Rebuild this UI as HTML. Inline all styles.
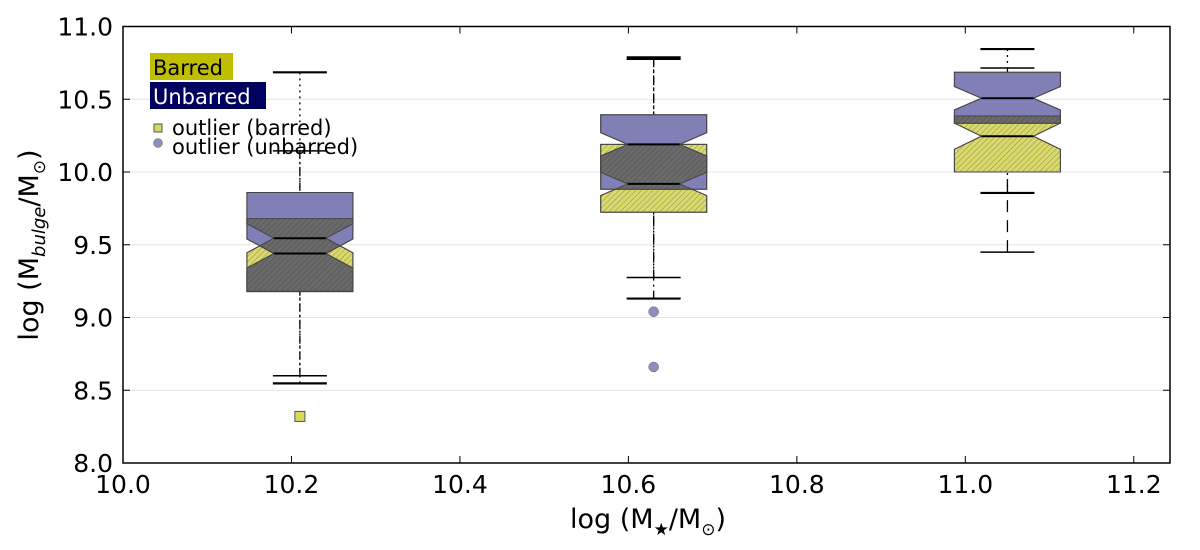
<!DOCTYPE html>
<html><head><meta charset="utf-8"><style>
html,body{margin:0;padding:0;background:#fff}
svg{display:block;font-family:"DejaVu Sans","Liberation Sans",sans-serif}
</style></head><body>
<svg id="chart" width="1200" height="550" viewBox="0 0 1200 550" xmlns="http://www.w3.org/2000/svg">
<defs>
<pattern id="hatch" width="4" height="4" patternUnits="userSpaceOnUse" patternTransform="rotate(45)">
<line x1="0" y1="0" x2="0" y2="4" stroke="#333" stroke-width="0.8" opacity="0.6"/>
</pattern>
</defs>
<g id="grid"></g>
<g id="marks"></g>
<rect x="123" y="26.5" width="1047" height="436.5" fill="none" stroke="#000" stroke-width="1.5"/>
<g id="axes"></g>
<text x="648" y="528" font-size="27" text-anchor="middle">log (M<tspan font-size="17" dy="7">★</tspan><tspan dy="-7">/M</tspan><tspan font-size="17" dy="7">⊙</tspan><tspan dy="-7">)</tspan></text>
<text transform="translate(38,245) rotate(-90)" font-size="27" text-anchor="middle">log (M<tspan font-size="18" dy="7" font-style="italic">bulge</tspan><tspan dy="-7">/M</tspan><tspan font-size="17" dy="7">⊙</tspan><tspan dy="-7">)</tspan></text>
<g>
<rect x="150" y="53" width="83" height="27" fill="#bfbf00"/>
<text x="153" y="75" font-size="21" fill="#000">Barred</text>
<rect x="150" y="82" width="116" height="27" fill="#00005e"/>
<text x="153" y="104" font-size="21" fill="#fff">Unbarred</text>
<rect x="154" y="124" width="8" height="8" fill="#d8d860" stroke="#555"/>
<text x="172" y="135" font-size="21">outlier (barred)</text>
<circle cx="158" cy="143" r="4.5" fill="#8e8eba" stroke="#666" stroke-width="0.5"/>
<text x="172" y="154" font-size="21">outlier (unbarred)</text>
</g>
</svg>
<script>
const positions = [10.21, 10.63, 11.05];
const barredQ1 = [9.18, 9.724, 10.0];
const barredMed = [9.545, 9.918, 10.246];
const barredQ3 = [9.68, 10.19, 10.385];
const barredNotch = [0.10, 0.08, 0.09];
const barredWLo = [8.547, 9.13, 9.856];
const barredWHi = [10.685, 10.788, 10.845];
const unbarredQ1 = [9.178, 9.882, 10.335];
const unbarredMed = [9.44, 10.19, 10.507];
const unbarredQ3 = [9.859, 10.394, 10.685];
const unbarredNotch = [0.10, 0.08, 0.08];
const unbarredWLo = [8.60, 9.275, 9.449];
const unbarredWHi = [10.145, 10.775, 10.715];
const barredOutX = [10.21];
const barredOutY = [8.32];
const unbarredOutX = [10.63, 10.63];
const unbarredOutY = [9.04, 8.66];
const xTicks = [10.0, 10.2, 10.4, 10.6, 10.8, 11.0, 11.2];
const yTicks = [8.0, 8.5, 9.0, 9.5, 10.0, 10.5, 11.0];

const NS = "http://www.w3.org/2000/svg";
const X0 = 123, X1 = 1170, Y0 = 463, Y1 = 26.5;
const xMin = 10.0, xMax = 11.243, yMin = 8.0, yMax = 11.0;
function sx(v){ return X0 + (v - xMin) / (xMax - xMin) * (X1 - X0); }
function sy(v){ return Y0 - (v - yMin) / (yMax - yMin) * (Y0 - Y1); }
function mk(tag, attrs, parent){
  const e = document.createElementNS(NS, tag);
  for (const k in attrs) e.setAttribute(k, attrs[k]);
  parent.appendChild(e); return e;
}
const grid = document.getElementById('grid');
const axes = document.getElementById('axes');
const marks = document.getElementById('marks');
const defs = document.querySelector('defs');

yTicks.forEach(t => {
  if (t > yMin && t < yMax) {
    const g = mk('line', {x1:X0, x2:X1, y1:sy(t), y2:sy(t), stroke:'#e4e4e4', 'stroke-width':1}, grid);
    
    
  }
  const tk = mk('line', {x1:X0, x2:X0+7, y1:sy(t), y2:sy(t), stroke:'#000'}, axes);
  
  
  const tk2 = mk('line', {x1:X1, x2:X1-7, y1:sy(t), y2:sy(t), stroke:'#000'}, axes);
  
  
  const lb = mk('text', {x:X0-10, y:sy(t)+9, 'font-size':25, 'text-anchor':'end'}, axes);
  lb.textContent = t.toFixed(1);
  
  
});
xTicks.forEach(t => {
  const x = sx(t);
  const tk = mk('line', {x1:x, x2:x, y1:Y0, y2:Y0-7, stroke:'#000'}, axes);
  
  
  const tk2 = mk('line', {x1:x, x2:x, y1:Y1, y2:Y1+7, stroke:'#000'}, axes);
  
  
  const lb = mk('text', {x:x, y:Y0+30, 'font-size':25, 'text-anchor':'middle'}, axes);
  lb.textContent = t.toFixed(1);
  
  
});

const HW = 53, NW = 26, CAP = 27;
function notchPts(p, q1, med, q3, n){
  const cx = sx(p);
  const lo = Math.max(q1, med - n), hi = Math.min(q3, med + n);
  const pts = [[cx-HW,sy(q1)],[cx-HW,sy(lo)],[cx-NW,sy(med)],[cx-HW,sy(hi)],[cx-HW,sy(q3)],
               [cx+HW,sy(q3)],[cx+HW,sy(hi)],[cx+NW,sy(med)],[cx+HW,sy(lo)],[cx+HW,sy(q1)]];
  return pts.map(a => a[0].toFixed(1)+','+a[1].toFixed(1)).join(' ');
}
const styles = [['2,4','8,3,2,3'],['8,4,2,4','8,4,2,4'],['2,4','12,8']];
positions.forEach((p, i) => {
  const cx = sx(p);
  const wb = mk('line', {x1:cx, x2:cx, y1:sy(barredWHi[i]), y2:sy(barredQ3[i]), stroke:'#000', 'stroke-width':1.3, 'stroke-dasharray':styles[i][0]}, marks);
  
  
  const wu = mk('line', {x1:cx, x2:cx, y1:sy(unbarredWHi[i]), y2:sy(unbarredQ3[i]), stroke:'#000', 'stroke-width':1.3, 'stroke-dasharray':styles[i][1]}, marks);
  
  
  const wbl = mk('line', {x1:cx, x2:cx, y1:sy(barredWLo[i]), y2:sy(barredQ1[i]), stroke:'#000', 'stroke-width':1.3, 'stroke-dasharray':styles[i][0]}, marks);
  
  
  const wul = mk('line', {x1:cx, x2:cx, y1:sy(unbarredWLo[i]), y2:sy(unbarredQ1[i]), stroke:'#000', 'stroke-width':1.3, 'stroke-dasharray':styles[i][1]}, marks);
  
  
  [barredWHi[i], barredWLo[i]].forEach(v => {
    const c = mk('line', {x1:cx-CAP, x2:cx+CAP, y1:sy(v), y2:sy(v), stroke:'#000', 'stroke-width':2.2}, marks);
    
    
  });
  [unbarredWHi[i], unbarredWLo[i]].forEach(v => {
    const c = mk('line', {x1:cx-CAP, x2:cx+CAP, y1:sy(v), y2:sy(v), stroke:'#000', 'stroke-width':1.5}, marks);
    
    
  });
  const pb = notchPts(p, barredQ1[i], barredMed[i], barredQ3[i], barredNotch[i]);
  const pu = notchPts(p, unbarredQ1[i], unbarredMed[i], unbarredQ3[i], unbarredNotch[i]);
  const b = mk('polygon', {points:pb, fill:'#dada6c', stroke:'#555', 'stroke-width':1}, marks);
  
  
  const bh = mk('polygon', {points:pb, fill:'url(#hatch)'}, marks);
  
  
  const u = mk('polygon', {points:pu, fill:'#8080b6', stroke:'#555', 'stroke-width':1}, marks);
  
  
  const cp = mk('clipPath', {id:'clipU'+i}, defs);
  mk('polygon', {points:pu}, cp);
  const ov = mk('polygon', {points:pb, fill:'#6a6a6a', 'clip-path':'url(#clipU'+i+')'}, marks);
  
  
  const ovh = mk('polygon', {points:pb, fill:'url(#hatch)', 'clip-path':'url(#clipU'+i+')'}, marks);
  
  
  const ob = mk('polygon', {points:pb, fill:'none', stroke:'#444', 'stroke-width':1}, marks);
  
  
  const ou = mk('polygon', {points:pu, fill:'none', stroke:'#444', 'stroke-width':1}, marks);
  
  
  const mb = mk('line', {x1:cx-NW, x2:cx+NW, y1:sy(barredMed[i]), y2:sy(barredMed[i]), stroke:'#000', 'stroke-width':2}, marks);
  
  
  const mu = mk('line', {x1:cx-NW, x2:cx+NW, y1:sy(unbarredMed[i]), y2:sy(unbarredMed[i]), stroke:'#000', 'stroke-width':2}, marks);
  
  
});
barredOutX.forEach((p, i) => {
  const o = mk('rect', {x:sx(p)-5, y:sy(barredOutY[i])-5, width:10, height:10, fill:'#d8d860', stroke:'#555'}, marks);
  
  
});
unbarredOutX.forEach((p, i) => {
  const o = mk('circle', {cx:sx(p), cy:sy(unbarredOutY[i]), r:5, fill:'#8e8eba', stroke:'#666', 'stroke-width':0.5}, marks);
  
  
});
</script>
</body></html>
